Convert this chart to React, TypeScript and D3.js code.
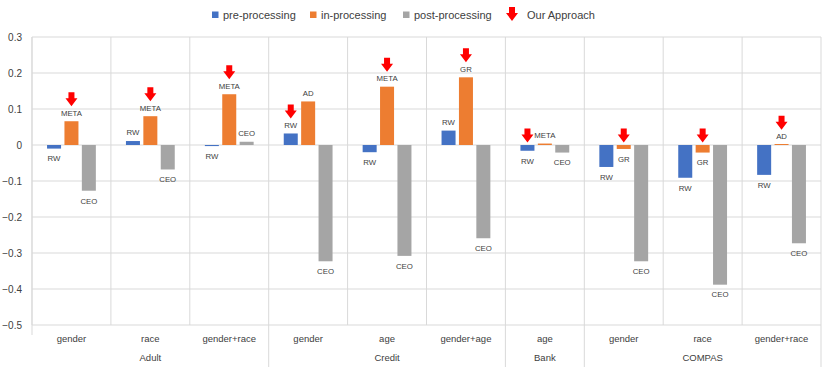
import React from "react";
import * as d3 from "d3";

const categoryLabels = ["gender", "race", "gender+race", "gender", "age", "gender+age", "age", "gender", "race", "gender+race"];
const categoryGroups = ["Adult", "Adult", "Adult", "Credit", "Credit", "Credit", "Bank", "COMPAS", "COMPAS", "COMPAS"];
const groupNames = ["Adult", "Credit", "Bank", "COMPAS"];

const seriesNames = ["pre-processing", "in-processing", "post-processing"];
const preValues = [-0.010, 0.011, -0.003, 0.032, -0.020, 0.040, -0.016, -0.061, -0.091, -0.083];
const inValues = [0.066, 0.080, 0.141, 0.121, 0.162, 0.188, 0.004, -0.011, -0.021, 0.001];
const postValues = [-0.127, -0.068, 0.009, -0.323, -0.308, -0.259, -0.021, -0.323, -0.388, -0.273];
const preLabels = ["RW", "RW", "RW", "RW", "RW", "RW", "RW", "RW", "RW", "RW"];
const inLabels = ["META", "META", "META", "AD", "META", "GR", "META", "GR", "GR", "AD"];
const postLabels = ["CEO", "CEO", "CEO", "CEO", "CEO", "CEO", "CEO", "CEO", "CEO", "CEO"];
const approachSeries = [1, 1, 1, 0, 1, 1, 0, 1, 1, 1];
const yTicks = [0.3, 0.2, 0.1, 0, -0.1, -0.2, -0.3, -0.4, -0.5];

const colors = ["#4472C4", "#ED7D31", "#A5A5A5"];
const FONT = "'Liberation Sans', Arial, sans-serif";

function Arrow({ cx, bottom }: { cx: number; bottom: number }) {
  const w = 12, h = 14, sw = 6, sh = 6;
  const top = bottom - h;
  const p = [
    [cx - sw / 2, top],
    [cx + sw / 2, top],
    [cx + sw / 2, top + sh],
    [cx + w / 2, top + sh],
    [cx, bottom],
    [cx - w / 2, top + sh],
    [cx - sw / 2, top + sh],
  ];
  return <path d={"M" + p.map((q) => q.join(",")).join("L") + "Z"} fill="#FF0000" />;
}

export default function App() {
  const width = 830, height = 370;
  const left = 32, right = 821, top = 37, bottom = 325;
  const idx = categoryLabels.map((_, i) => String(i));
  const x = d3.scaleBand<string>().domain(idx).range([left, right]).padding(0);
  const inner = d3
    .scaleBand<string>()
    .domain(["0", "1", "2"])
    .range([0, x.bandwidth()])
    .paddingInner(0.195)
    .paddingOuter(0.865);
  const y = d3.scaleLinear().domain([-0.5, 0.3]).range([bottom, top]);
  const y0 = y(0);

  const values = [preValues, inValues, postValues];
  const labels = [preLabels, inLabels, postLabels];

  const groupSpans = groupNames.map((g) => {
    const ids = categoryGroups.map((c, i) => (c === g ? i : -1)).filter((i) => i >= 0);
    const x0 = x(String(ids[0]))!;
    const x1 = x(String(ids[ids.length - 1]))! + x.bandwidth();
    return { g, x0, x1 };
  });

  const grid = "#D9D9D9";
  const txt = "#404040";

  return (
    <svg width={width} height={height} style={{ position: "absolute", left: 0, top: 0 }} fontFamily={FONT}>
      <rect width={width} height={height} fill="#fff" />
      {yTicks.map((t) => (
        <line key={"h" + t} x1={left} x2={right} y1={y(t)} y2={y(t)} stroke={grid} strokeWidth={1} />
      ))}
      {idx.map((id) => (
        <line key={"v" + id} x1={x(id)!} x2={x(id)!} y1={top} y2={bottom} stroke={grid} strokeWidth={1} />
      ))}
      <line x1={right} x2={right} y1={top} y2={367} stroke={grid} strokeWidth={1} />
      <line x1={left} x2={left} y1={top} y2={335} stroke={grid} strokeWidth={1} />
      {groupSpans.slice(1).map((s) => (
        <line key={"gs" + s.g} x1={s.x0} x2={s.x0} y1={bottom} y2={367} stroke={grid} strokeWidth={1} />
      ))}
      {yTicks.map((t) => (
        <text key={"t" + t} x={22} y={y(t) + 3.5} textAnchor="end" fontSize={10} fill={txt}>
          {t === 0 ? "0" : d3.format(".1f")(t)}
        </text>
      ))}
      {idx.map((id, i) =>
        values.map((vals, s) => {
          const v = vals[i];
          const bx = x(id)! + inner(String(s))!;
          const bw = inner.bandwidth();
          const yt = Math.min(y(v), y0);
          const hh = Math.max(Math.abs(y(v) - y0), 1);
          return <rect key={"b" + i + "-" + s} x={bx} y={v >= 0 ? y0 - hh : yt} width={bw} height={hh} fill={colors[s]} />;
        })
      )}
      {idx.map((id, i) =>
        values.map((vals, s) => {
          const v = vals[i];
          const cx = x(id)! + inner(String(s))! + inner.bandwidth() / 2;
          const pos = v >= 0;
          const ly = pos ? y(v) - 8.5 : y(v) + 10;
          const hasArrow = approachSeries[i] === s;
          const arrowBottom = pos ? y(v) - 15 : y0 - 2.5;
          return (
            <g key={"l" + i + "-" + s}>
              <text x={cx} y={ly + 2.8} textAnchor="middle" fontSize={7.8} fill={txt}>
                {labels[s][i]}
              </text>
              {hasArrow && <Arrow cx={cx} bottom={arrowBottom} />}
            </g>
          );
        })
      )}
      {idx.map((id, i) => (
        <text key={"c" + i} x={x(id)! + x.bandwidth() / 2} y={341.5} textAnchor="middle" fontSize={9.5} fill={txt}>
          {categoryLabels[i]}
        </text>
      ))}
      {groupSpans.map((s) => (
        <text key={"g" + s.g} x={(s.x0 + s.x1) / 2} y={360.5} textAnchor="middle" fontSize={9.5} fill={txt}>
          {s.g}
        </text>
      ))}
      {seriesNames.map((n, s) => {
        const lx = [212, 310, 403][s];
        return (
          <g key={"lg" + s}>
            <rect x={lx} y={11.5} width={6.5} height={6.5} fill={colors[s]} />
            <text x={lx + 11} y={18.5} fontSize={11} fill={txt}>
              {n}
            </text>
          </g>
        );
      })}
      <Arrow cx={512} bottom={21} />
      <text x={527} y={18.5} fontSize={11} fill={txt}>
        Our Approach
      </text>
    </svg>
  );
}
